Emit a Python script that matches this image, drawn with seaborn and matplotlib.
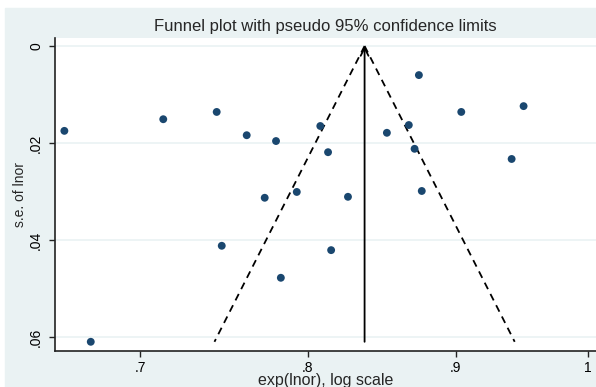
import numpy as np
import pandas as pd
import matplotlib
matplotlib.use("Agg")
import matplotlib.pyplot as plt
import seaborn as sns

# study odds ratios and their standard errors
odds_ratio = [0.659, 0.713, 0.744, 0.762, 0.780, 0.808, 0.813, 0.852,
              0.867, 0.871, 0.874, 0.904, 0.950, 0.941, 0.773, 0.793,
              0.826, 0.876, 0.747, 0.815, 0.783, 0.673]
se_lnor = [0.0175, 0.0151, 0.0136, 0.0184, 0.0196, 0.0165, 0.0219, 0.0179,
           0.0163, 0.0212, 0.0060, 0.0136, 0.0124, 0.0233, 0.0313, 0.0301,
           0.0311, 0.0299, 0.0412, 0.0421, 0.0478, 0.0610]
pooled_or = 0.837
se_max = 0.061

x_ticks = [0.7, 0.8, 0.9, 1.0]
x_ticklabels = [".7", ".8", ".9", "1"]
y_ticks = [0, 0.02, 0.04, 0.06]
y_ticklabels = ["0", ".02", ".04", ".06"]

df = pd.DataFrame({"or": odds_ratio, "se": se_lnor})

sns.set_theme(style="white")
plt.rcParams["font.family"] = ["Liberation Sans", "DejaVu Sans"]

bg = "#eaf2f3"
navy = "#1a476f"

fig = plt.figure(figsize=(5.96, 3.87), dpi=100)
fig.patch.set_facecolor("white")
# stata-like outer background panel
panel = plt.Rectangle((5 / 596, 0), 1, 1 - 8 / 387,
                      transform=fig.transFigure, color=bg, zorder=-10)
fig.add_artist(panel)

ax = fig.add_axes([55 / 596, 1 - 351 / 387, 541 / 596, 313 / 387])
ax.set_zorder(5)
ax.set_facecolor("white")
ax.set_xscale("log")

# pseudo 95% confidence limits
se_line = np.array([0, se_max])
lo = np.exp(np.log(pooled_or) - 1.96 * se_line)
hi = np.exp(np.log(pooled_or) + 1.96 * se_line)
ax.plot(lo, se_line, color="black", lw=1.3, ls=(0, (4, 3)), zorder=2)
ax.plot(hi, se_line, color="black", lw=1.3, ls=(0, (4, 3)), zorder=2)
ax.annotate("", xy=(pooled_or, 0), xytext=(pooled_or, se_max),
            arrowprops=dict(arrowstyle="->", lw=1.3, color="black",
                            mutation_scale=14, shrinkA=0, shrinkB=0),
            zorder=3)

sns.scatterplot(data=df, x="or", y="se", ax=ax, color=navy, s=32,
                edgecolor="none", zorder=4, legend=False)

ax.set_xlim(0.6541, 1.0064)
ax.set_ylim(0.0629, -0.00165)

ax.set_xticks(x_ticks)
ax.set_xticklabels(x_ticklabels)
ax.xaxis.set_minor_locator(matplotlib.ticker.NullLocator())
ax.set_yticks(y_ticks)
ax.set_yticklabels(y_ticklabels, rotation=90, va="center")

ax.tick_params(axis="both", which="major", direction="out", length=4.5,
               width=1, color="#222222", labelsize=10, labelcolor="black",
               left=True, bottom=True)
ax.tick_params(axis="y", pad=4)
ax.tick_params(axis="x", pad=3)

for yt in y_ticks:
    ax.axhline(yt, color=bg, lw=1.2, zorder=1)

for side in ["top", "right"]:
    ax.spines[side].set_visible(False)
for side in ["left", "bottom"]:
    ax.spines[side].set_color("#222222")
    ax.spines[side].set_linewidth(1.2)

ax.set_xlabel("")
ax.set_ylabel("")
fig.text(0.5 * (55 + 596) / 596, 1 - 27 / 387,
         "Funnel plot with pseudo 95% confidence limits",
         ha="center", va="center", fontsize=12)
fig.text(0.5 * (55 + 596) / 596, 1 - 385 / 387, "exp(lnor), log scale",
         ha="center", va="baseline", fontsize=11.5)
fig.text(20 / 596, 1 - 194 / 387, "s.e. of lnor", rotation=90,
         ha="center", va="center", fontsize=10)

fig.savefig("out.png", dpi=100)
